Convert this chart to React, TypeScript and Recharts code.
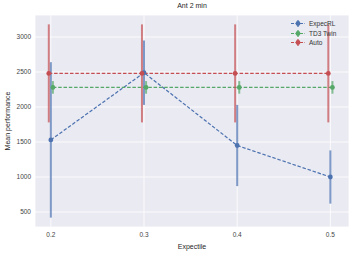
import {
  ComposedChart,
  Line,
  ErrorBar,
  XAxis,
  YAxis,
  CartesianGrid,
} from "recharts";

const expectiles = [0.2, 0.3, 0.4, 0.5];
const xTicks = [0.2, 0.3, 0.4, 0.5];
const yTicks = [500, 1000, 1500, 2000, 2500, 3000];

const expecRLMean = [1530, 2490, 1450, 1000];
const expecRLErr = [1110, 460, 580, 380];
const td3TwinMean = [2280, 2280, 2280, 2280];
const td3TwinErr = [90, 90, 90, 90];
const autoMean = [2480, 2480, 2480, 2480];
const autoErr = [700, 700, 700, 700];

const FONT = "'Liberation Sans', Arial, sans-serif";

// matplotlib dodges each series a little along x
const build = (means: number[], errs: number[], shift: number) =>
  expectiles.map((x, i) => ({ x: x + shift, y: means[i], err: errs[i] }));

const SERIES = [
  { name: "ExpecRL", color: "#4C72B0", data: build(expecRLMean, expecRLErr, 0) },
  { name: "TD3 Twin", color: "#55A868", data: build(td3TwinMean, td3TwinErr, 0.0022) },
  { name: "Auto", color: "#C44E52", data: build(autoMean, autoErr, -0.0022) },
];

function LegendBox() {
  return (
    <div
      style={{
        position: "absolute",
        left: 290,
        top: 19,
        fontFamily: FONT,
        fontSize: 6.5,
        color: "#333",
        lineHeight: "9.5px",
      }}
    >
      {SERIES.map((s) => (
        <div key={s.name} style={{ display: "flex", alignItems: "center", height: 9.5 }}>
          <svg width={16} height={9}>
            <line x1={1} x2={15} y1={4.5} y2={4.5} stroke={s.color} strokeWidth={1.2} strokeDasharray="3 1.5" />
            <line x1={8} x2={8} y1={1} y2={8} stroke={s.color} strokeOpacity={0.7} strokeWidth={1.8} />
            <circle cx={8} cy={4.5} r={2.4} fill={s.color} />
          </svg>
          <span style={{ marginLeft: 3 }}>{s.name}</span>
        </div>
      ))}
    </div>
  );
}

export default function App() {
  return (
    <div style={{ position: "absolute", left: 0, top: 0, width: 350, height: 253, background: "#fff" }}>
      <style>{"body{margin:0}"}</style>
      <div
        style={{
          position: "absolute",
          left: 35,
          width: 314,
          top: 2,
          textAlign: "center",
          fontFamily: FONT,
          fontSize: 7,
          color: "#262626",
        }}
      >
        Ant 2 min
      </div>
      <ComposedChart
        width={350}
        height={253}
        margin={{ top: 15, right: 1, bottom: 16, left: 0 }}
        style={{ fontFamily: FONT }}
      >
        <CartesianGrid fill="#EAEAF2" stroke="#ffffff" strokeWidth={0.8} />
        <XAxis
          type="number"
          dataKey="x"
          domain={[0.183, 0.52]}
          ticks={xTicks}
          allowDataOverflow
          axisLine={false}
          tickLine={false}
          tickSize={0}
          tickMargin={5}
          height={10}
          tick={{ fontSize: 6.5, fill: "#444" }}
          tickFormatter={(v: number) => v.toFixed(1)}
          label={{ value: "Expectile", position: "insideBottom", offset: -12, fontSize: 7, fill: "#262626" }}
        />
        <YAxis
          type="number"
          domain={[286, 3314]}
          ticks={yTicks}
          allowDataOverflow
          axisLine={false}
          tickLine={false}
          tickSize={0}
          tickMargin={4}
          width={35}
          tick={{ fontSize: 6.5, fill: "#444" }}
          label={{
            value: "Mean performance",
            angle: -90,
            position: "insideLeft",
            offset: 8,
            style: { textAnchor: "middle" },
            fontSize: 7,
            fill: "#262626",
          }}
        />
        {SERIES.map((s) => (
          <Line
            key={s.name}
            data={s.data}
            dataKey="y"
            name={s.name}
            stroke={s.color}
            strokeWidth={1.2}
            strokeDasharray="3.5 1.8"
            dot={{ r: 2.4, fill: s.color, stroke: s.color, strokeWidth: 0 }}
            activeDot={false}
            isAnimationActive={false}
          >
            <ErrorBar
              dataKey="err"
              direction="y"
              width={0}
              stroke={s.color}
              strokeOpacity={0.7}
              strokeWidth={2}
              isAnimationActive={false}
            />
          </Line>
        ))}
      </ComposedChart>
      <LegendBox />
    </div>
  );
}
